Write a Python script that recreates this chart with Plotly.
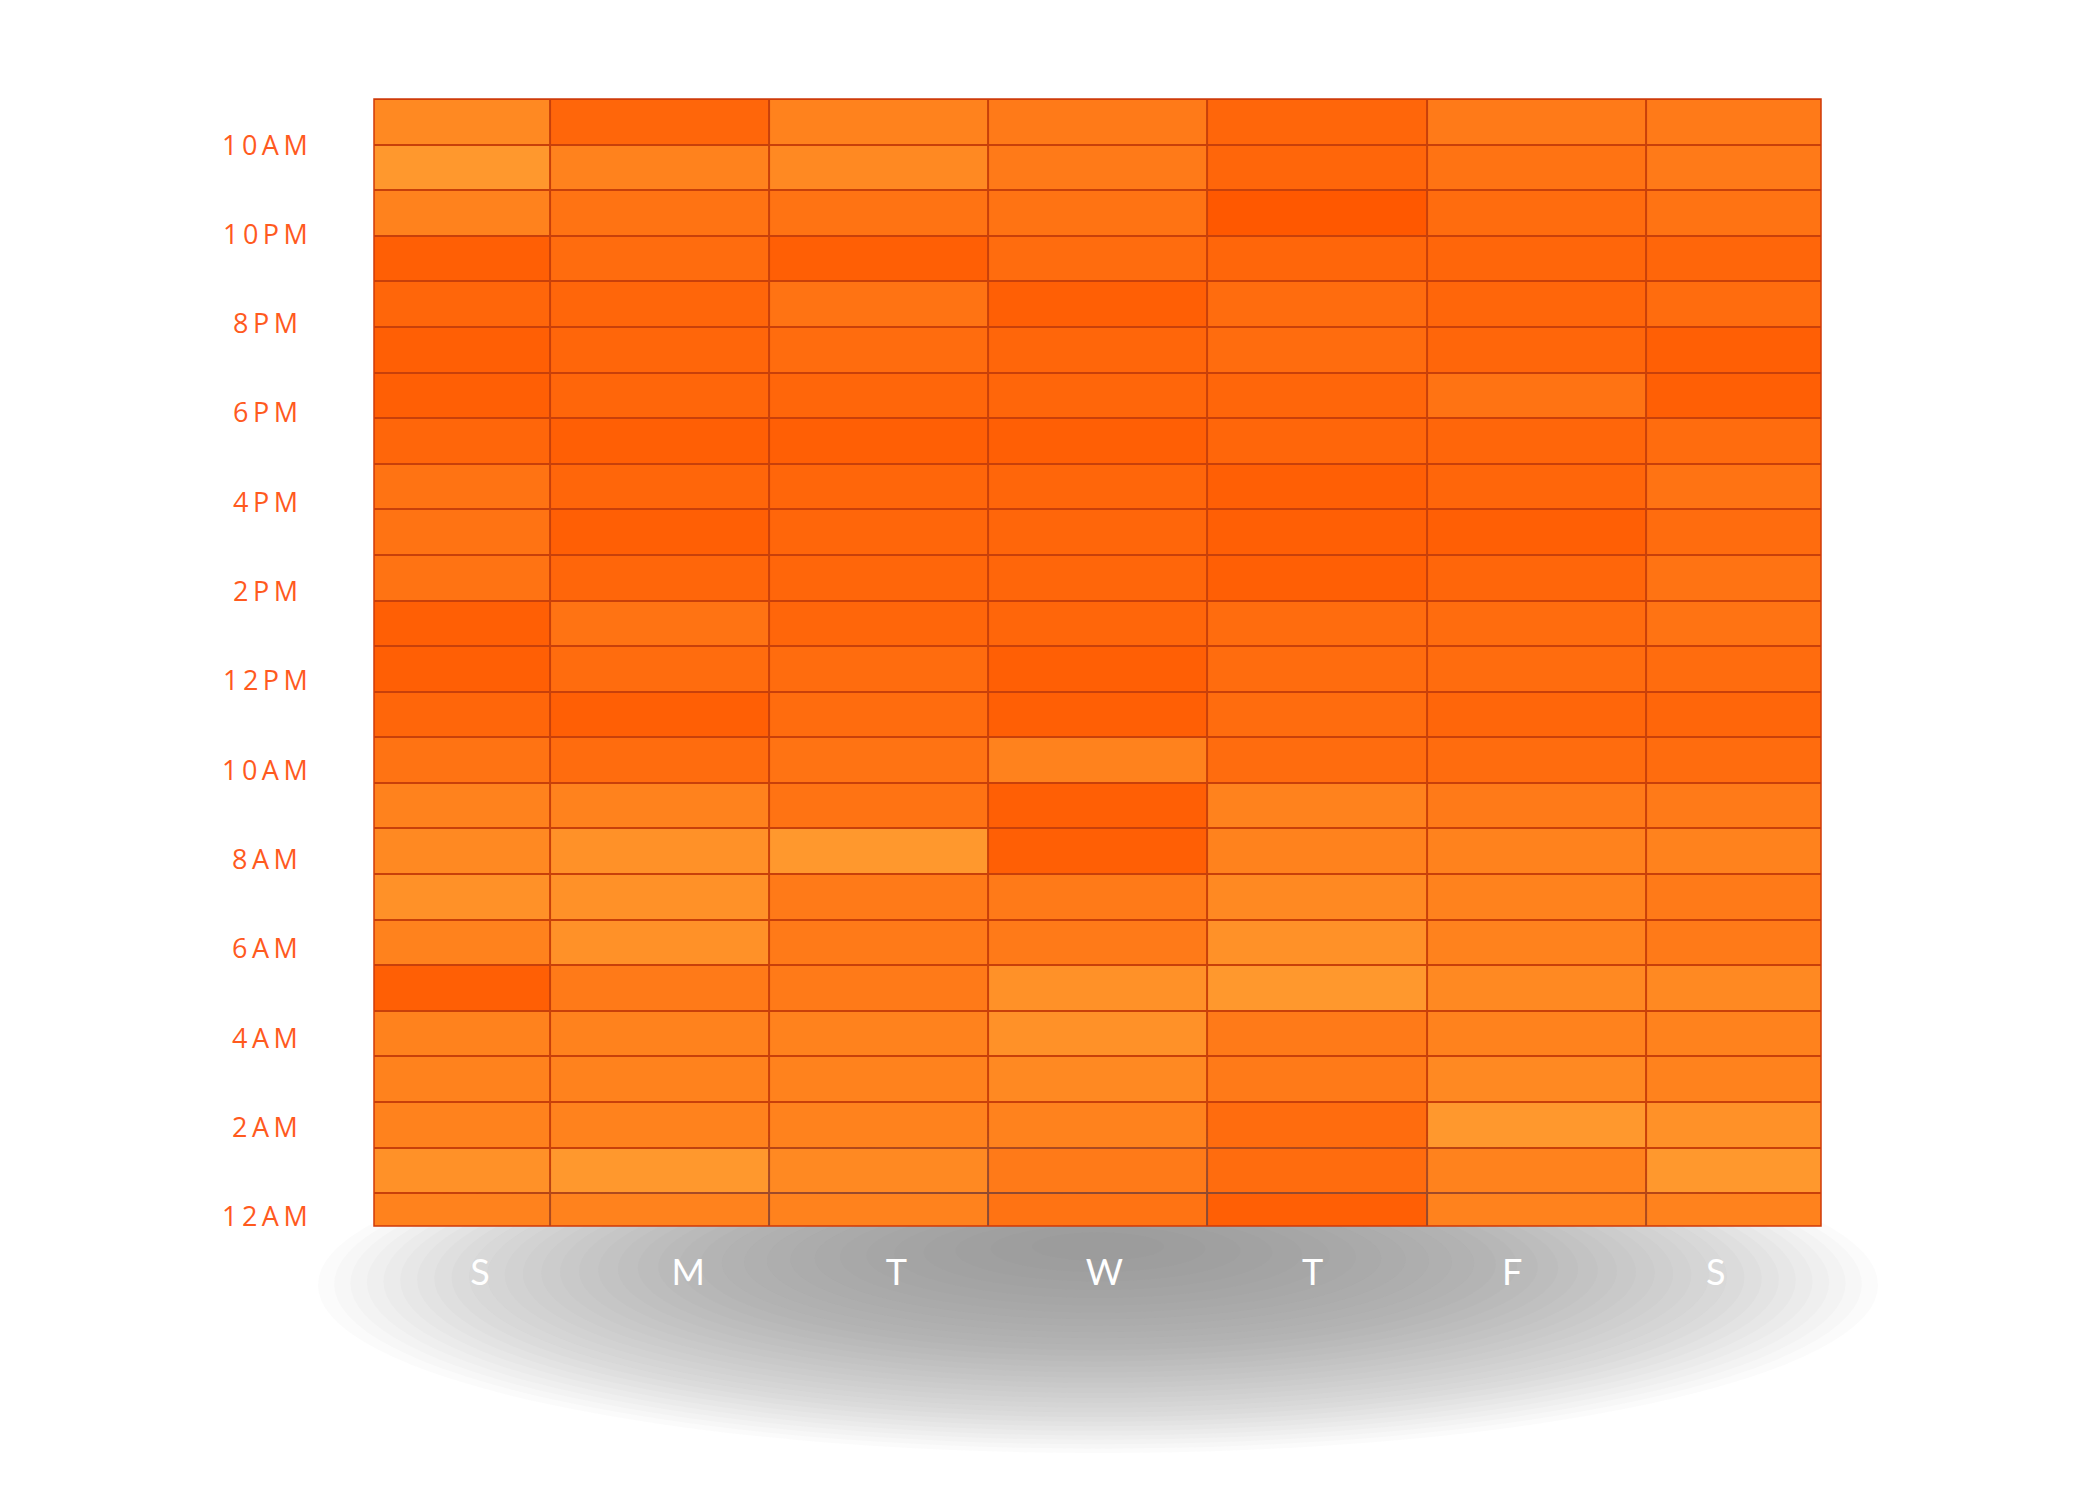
import plotly.graph_objects as go

days = ["S", "M", "T", "W", "T", "F", "S"]
hour_labels = ["12AM", "2AM", "4AM", "6AM", "8AM", "10AM", "12PM", "2PM", "4PM",
               "6PM", "8PM", "10PM", "10AM"]

# activity level per hour (rows listed from the top row down to 12AM), per day S..S
rows_top_down = [
    [3, 8, 4, 5, 8, 5, 5],
    [1, 4, 3, 5, 8, 6, 5],
    [4, 6, 6, 6, 10, 7, 6],
    [9, 7, 9, 7, 8, 8, 8],
    [8, 8, 6, 9, 7, 8, 7],
    [9, 8, 7, 8, 7, 8, 9],
    [9, 8, 8, 8, 8, 6, 9],
    [8, 9, 9, 9, 8, 8, 7],
    [6, 8, 8, 8, 9, 8, 6],
    [6, 9, 8, 8, 9, 9, 7],
    [6, 8, 8, 8, 9, 8, 6],
    [9, 6, 8, 8, 7, 7, 6],
    [9, 7, 7, 9, 7, 7, 7],
    [8, 9, 7, 9, 7, 8, 8],
    [6, 7, 6, 4, 7, 7, 7],
    [4, 4, 6, 9, 4, 5, 5],
    [3, 2, 1, 9, 4, 4, 4],
    [2, 2, 5, 5, 3, 4, 5],
    [4, 2, 5, 5, 2, 4, 5],
    [9, 5, 5, 2, 1, 3, 3],
    [4, 4, 4, 2, 5, 4, 4],
    [4, 4, 4, 3, 5, 3, 4],
    [4, 4, 4, 4, 7, 1, 2],
    [2, 1, 3, 5, 7, 4, 1],
    [4, 4, 4, 6, 9, 4, 4],
]
z = rows_top_down[::-1]

W, H = 2100, 1500
L, R, T, B = 366, 287, 91, 282
pw, ph = W - L - R, H - T - B


def px(x):
    return (x - L) / pw


def py(y):
    return (H - B - y) / ph


fig = go.Figure(go.Heatmap(
    z=z, x=list(range(7)), y=list(range(25)),
    colorscale=[[0, "#FFA032"], [0.5, "#FF7A18"], [1, "#FF5800"]],
    zmin=0, zmax=10, showscale=False, xgap=2, ygap=2,
))

# soft grey shadow under the grid: stacked faint ellipses, top half hidden by the grid
cx, cy = 1090, 1235
n = 34
for i in range(n):
    f = (1 - i / n) ** 0.7
    rx, ry = 780 * f, 210 * f
    fig.add_shape(type="circle", xref="paper", yref="paper", layer="below",
                  x0=px(cx - rx), x1=px(cx + rx), y0=py(cy + ry), y1=py(cy - ry * 0.6),
                  fillcolor="rgba(95,95,95,0.028)", line_width=0)

# hour labels, centred in the left margin
sp = "\u2009"
label_pos = [k * 1.96 for k in range(12)] + [23.5]
for lab, yv in zip(hour_labels, label_pos):
    fig.add_annotation(x=px(257), xref="paper", y=yv, yref="y",
                       text=sp.join(lab), showarrow=False, xanchor="center",
                       font=dict(size=27, color="#FF5A1E", family="Open Sans"))

fig.update_xaxes(range=[-0.304, 6.30], tickvals=[0.18, 1.13, 2.08, 3.03, 3.98, 4.89, 5.82],
                 ticktext=days, tickfont=dict(size=36, color="white", family="Lato"),
                 showgrid=False, zeroline=False, ticks="", ticklabelstandoff=22)
fig.update_yaxes(range=[-0.22, 24.5], showticklabels=False,
                 showgrid=False, zeroline=False, ticks="")
fig.add_shape(type="rect", xref="paper", yref="paper", x0=0, x1=1, y0=0, y1=1,
              line=dict(color="#D03A08", width=1.5))

fig.update_layout(width=W, height=H, margin=dict(l=L, r=R, t=T, b=B),
                  plot_bgcolor="#C8400A", paper_bgcolor="white")
fig.write_html("out.html")
